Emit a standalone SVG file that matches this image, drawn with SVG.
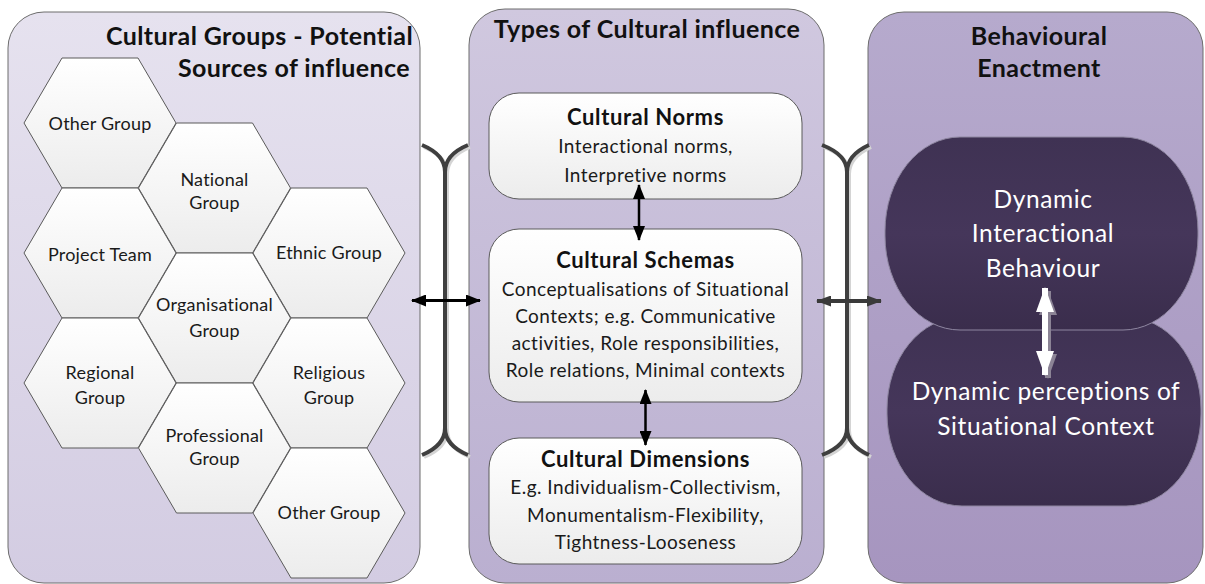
<svg xmlns="http://www.w3.org/2000/svg" width="1205" height="584" viewBox="0 0 1205 584">
  <defs>
    <linearGradient id="gLeft" x1="0" y1="0" x2="0" y2="1">
      <stop offset="0" stop-color="#e6e2ef"/>
      <stop offset="1" stop-color="#d3cce2"/>
    </linearGradient>
    <linearGradient id="gMid" x1="0" y1="0" x2="0" y2="1">
      <stop offset="0" stop-color="#d0c8df"/>
      <stop offset="1" stop-color="#baafd0"/>
    </linearGradient>
    <linearGradient id="gRight" x1="0" y1="0" x2="0" y2="1">
      <stop offset="0" stop-color="#b6aacd"/>
      <stop offset="1" stop-color="#a695bf"/>
    </linearGradient>
    <linearGradient id="gBox" x1="0" y1="0" x2="0" y2="1">
      <stop offset="0" stop-color="#ffffff"/>
      <stop offset="1" stop-color="#ececec"/>
    </linearGradient>
    <linearGradient id="gDark" x1="0" y1="0" x2="0" y2="1">
      <stop offset="0" stop-color="#3f3253"/>
      <stop offset="0.5" stop-color="#45365a"/>
      <stop offset="1" stop-color="#3a2d4c"/>
    </linearGradient>
    <marker id="headBlack" viewBox="0 0 15 12" refX="14" refY="6" markerWidth="15" markerHeight="12" markerUnits="userSpaceOnUse" orient="auto-start-reverse">
      <path d="M0,0 L15,6 L0,12 z" fill="#000"/>
    </marker>
    <marker id="headGrey" viewBox="0 0 15 11" refX="14" refY="5.5" markerWidth="15" markerHeight="11" markerUnits="userSpaceOnUse" orient="auto-start-reverse">
      <path d="M0,0 L15,5.5 L0,11 z" fill="#3a3a3a"/>
    </marker>
    <marker id="headWhite" viewBox="0 0 25 18" refX="24" refY="9" markerWidth="25" markerHeight="18" markerUnits="userSpaceOnUse" orient="auto-start-reverse">
      <path d="M0,0 L25,9 L0,18 z" fill="#ffffff"/>
    </marker>
    <marker id="headShadow" viewBox="0 0 25 18" refX="24" refY="9" markerWidth="25" markerHeight="18" markerUnits="userSpaceOnUse" orient="auto-start-reverse">
      <path d="M0,0 L25,9 L0,18 z" fill="#8c8496"/>
    </marker>
  </defs>
  <style>
    .panel { stroke: #6d6d6d; stroke-width: 1; }
    .hex { fill: url(#gBox); stroke: #5a5a5a; stroke-width: 1; }
    .box { fill: url(#gBox); stroke: #5a5a5a; stroke-width: 1; }
    .dark { fill: url(#gDark); stroke: #8e86a0; stroke-width: 1; }
    .title { font-family: Lato, "Liberation Sans", sans-serif; font-weight: bold; font-size: 25px; letter-spacing: 0.4px; fill: #111; }
    .hexText { font-family: Lato, "Liberation Sans", sans-serif; font-size: 18px; letter-spacing: 0.2px; fill: #1a1a1a; text-anchor: middle; }
    .head { font-family: Lato, "Liberation Sans", sans-serif; font-weight: bold; font-size: 22px; letter-spacing: 0.6px; fill: #111; text-anchor: middle; }
    .body { font-family: Lato, "Liberation Sans", sans-serif; font-size: 19px; letter-spacing: 0.45px; fill: #1a1a1a; text-anchor: middle; }
    .light { font-family: Lato, "Liberation Sans", sans-serif; font-size: 24.5px; letter-spacing: 0.6px; fill: #ffffff; text-anchor: middle; }
    .bracket { fill: none; stroke: #3f3f3f; stroke-width: 4; stroke-linecap: butt; }
    .bracketShadow { fill: none; stroke: #d4d4d4; stroke-width: 4; }
  </style>

  <!-- Column panels -->
  <g id="panel-groups">
    <rect class="panel" x="8" y="12" width="412" height="571" rx="36" fill="url(#gLeft)"/>
    <text class="title" x="413" y="45" text-anchor="end">Cultural Groups - Potential</text>
    <text class="title" x="410" y="77" text-anchor="end">Sources of influence</text>
  </g>
  <g id="panel-types">
    <rect class="panel" x="469" y="9" width="355" height="574" rx="36" fill="url(#gMid)"/>
    <text class="title" x="647" y="38" text-anchor="middle">Types of Cultural influence</text>
  </g>
  <g id="panel-behaviour">
    <rect class="panel" x="868" y="12" width="335" height="571" rx="36" fill="url(#gRight)"/>
    <text class="title" x="1039" y="45" text-anchor="middle">Behavioural</text>
    <text class="title" x="1039" y="77" text-anchor="middle">Enactment</text>
  </g>

  <!-- Hexagon cluster of cultural groups -->
  <g id="hex-other-top">
    <polygon class="hex" points="24,123 62,58 138,58 176,123 138,188 62,188"/>
    <text class="hexText" x="100" y="130">Other Group</text>
  </g>
  <g id="hex-national">
    <polygon class="hex" points="138.5,188 176.5,123 252.5,123 290.5,188 252.5,253 176.5,253"/>
    <text class="hexText" x="214.5" y="186">National</text>
    <text class="hexText" x="214.5" y="209">Group</text>
  </g>
  <g id="hex-project">
    <polygon class="hex" points="24,253 62,188 138,188 176,253 138,318 62,318"/>
    <text class="hexText" x="100" y="261">Project Team</text>
  </g>
  <g id="hex-ethnic">
    <polygon class="hex" points="253,253 291,188 367,188 405,253 367,318 291,318"/>
    <text class="hexText" x="329" y="259">Ethnic Group</text>
  </g>
  <g id="hex-organisational">
    <polygon class="hex" points="138.5,318 176.5,253 252.5,253 290.5,318 252.5,383 176.5,383"/>
    <text class="hexText" x="214.5" y="311">Organisational</text>
    <text class="hexText" x="214.5" y="337">Group</text>
  </g>
  <g id="hex-regional">
    <polygon class="hex" points="24,383 62,318 138,318 176,383 138,448 62,448"/>
    <text class="hexText" x="100" y="379">Regional</text>
    <text class="hexText" x="100" y="404">Group</text>
  </g>
  <g id="hex-religious">
    <polygon class="hex" points="253,383 291,318 367,318 405,383 367,448 291,448"/>
    <text class="hexText" x="329" y="379">Religious</text>
    <text class="hexText" x="329" y="404">Group</text>
  </g>
  <g id="hex-professional">
    <polygon class="hex" points="138.5,448 176.5,383 252.5,383 290.5,448 252.5,513 176.5,513"/>
    <text class="hexText" x="214.5" y="442">Professional</text>
    <text class="hexText" x="214.5" y="465">Group</text>
  </g>
  <g id="hex-other-bottom">
    <polygon class="hex" points="253,513 291,448 367,448 405,513 367,578 291,578"/>
    <text class="hexText" x="329" y="519">Other Group</text>
  </g>

  <!-- Types of cultural influence -->
  <g id="box-norms">
    <rect class="box" x="489" y="93" width="313" height="106" rx="30"/>
    <text class="head" x="645.5" y="125">Cultural Norms</text>
    <text class="body" x="645.5" y="153">Interactional norms,</text>
    <text class="body" x="645.5" y="182">Interpretive norms</text>
  </g>
  <g id="box-schemas">
    <rect class="box" x="489" y="229" width="313" height="173" rx="30"/>
    <text class="head" x="645.5" y="268">Cultural Schemas</text>
    <text class="body" x="645.5" y="296">Conceptualisations of Situational</text>
    <text class="body" x="645.5" y="323">Contexts; e.g. Communicative</text>
    <text class="body" x="645.5" y="350">activities, Role responsibilities,</text>
    <text class="body" x="645.5" y="377">Role relations, Minimal contexts</text>
  </g>
  <g id="box-dimensions">
    <rect class="box" x="489" y="438" width="313" height="126" rx="30"/>
    <text class="head" x="645.5" y="467">Cultural Dimensions</text>
    <text class="body" x="645.5" y="494">E.g. Individualism-Collectivism,</text>
    <text class="body" x="645.5" y="522">Monumentalism-Flexibility,</text>
    <text class="body" x="645.5" y="549">Tightness-Looseness</text>
  </g>

  <!-- Behavioural enactment -->
  <g id="node-perceptions">
    <rect class="dark" x="887" y="317" width="314" height="189" rx="75" ry="92"/>
    <text class="light" x="1046" y="400">Dynamic perceptions of</text>
    <text class="light" x="1046" y="435">Situational Context</text>
  </g>
  <g id="node-interactional">
    <rect class="dark" x="885" y="137" width="313" height="193" rx="75" ry="94"/>
    <text class="light" x="1043" y="208">Dynamic</text>
    <text class="light" x="1043" y="242">Interactional</text>
    <text class="light" x="1043" y="277">Behaviour</text>
  </g>

  <!-- Connectors -->
  <g id="connectors">
    <!-- bracket between groups and types -->
    <g transform="translate(2,2)">
      <path class="bracketShadow" d="M422,145 C434,150 445,158 445,172 M468,145 C456,150 445,158 445,172 M445,172 L445,428 M445,428 C445,442 434,450 422,455 M445,428 C445,442 456,450 468,455"/>
    </g>
    <path class="bracket" d="M422,145 C434,150 445,158 445,172 M468,145 C456,150 445,158 445,172 M445,172 L445,428 M445,428 C445,442 434,450 422,455 M445,428 C445,442 456,450 468,455"/>
    <!-- bracket between types and behaviour -->
    <g transform="translate(2,2)">
      <path class="bracketShadow" d="M822,145 C835,150 847,158 847,172 M869,145 C858,150 847,158 847,172 M847,172 L847,428 M847,428 C847,442 835,450 822,455 M847,428 C847,442 858,450 869,455"/>
    </g>
    <path class="bracket" d="M822,145 C835,150 847,158 847,172 M869,145 C858,150 847,158 847,172 M847,172 L847,428 M847,428 C847,442 835,450 822,455 M847,428 C847,442 858,450 869,455"/>

    <line x1="412" y1="300.5" x2="480" y2="300.5" stroke="#000" stroke-width="3" marker-start="url(#headBlack)" marker-end="url(#headBlack)"/>
    <line x1="817" y1="301" x2="881" y2="301" stroke="#3a3a3a" stroke-width="4" marker-start="url(#headGrey)" marker-end="url(#headGrey)"/>

    <line x1="639" y1="185" x2="639" y2="240" stroke="#000" stroke-width="2.5" marker-start="url(#headBlack)" marker-end="url(#headBlack)"/>
    <line x1="645.5" y1="390" x2="645.5" y2="445" stroke="#000" stroke-width="2.5" marker-start="url(#headBlack)" marker-end="url(#headBlack)"/>

    <line x1="1048" y1="291" x2="1048" y2="378" stroke="#8c8496" stroke-width="6" marker-start="url(#headShadow)" marker-end="url(#headShadow)"/>
    <line x1="1045" y1="288" x2="1045" y2="375" stroke="#ffffff" stroke-width="6" marker-start="url(#headWhite)" marker-end="url(#headWhite)"/>
  </g>
</svg>
